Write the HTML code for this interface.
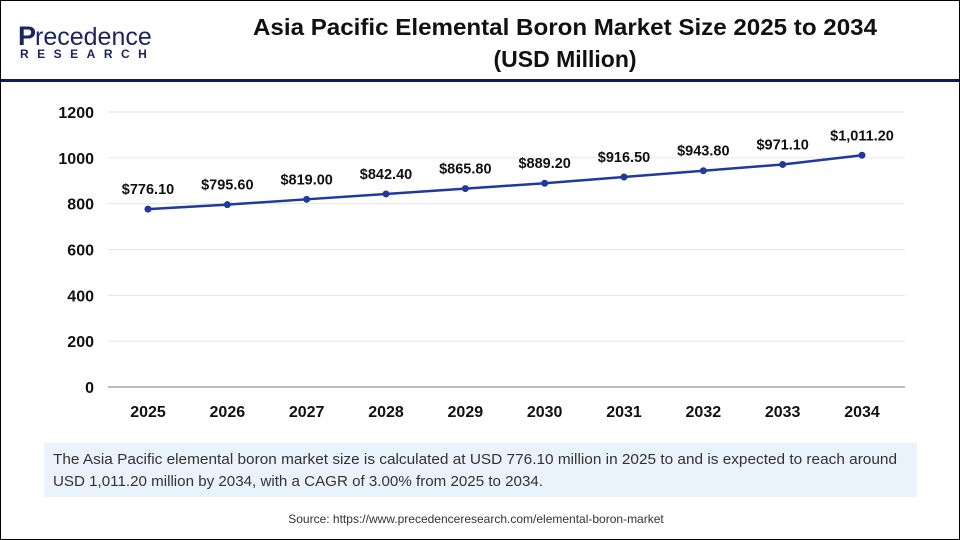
<!DOCTYPE html>
<html><head><meta charset="utf-8"><style>
body{margin:0;width:960px;height:540px;overflow:hidden;background:#fff;font-family:"Liberation Sans",Arial,sans-serif}
#frame{position:absolute;left:0;top:0;width:958px;height:538px;border:1px solid #000}
</style></head><body>
<div id="frame"></div>
<svg width="960" height="540" style="position:absolute;left:0;top:0">
 <g>
  <text x="18" y="45" font-size="27" font-weight="bold" fill="#1a2466">P</text>
  <text x="35" y="45" font-size="25" fill="#1a2466">recedence</text>
  <text x="20" y="58" font-size="12" font-weight="bold" fill="#1a2466" letter-spacing="8.5">RESEARCH</text>
 </g>
 <text x="565" y="35" font-size="23" font-weight="bold" text-anchor="middle" fill="#111" textLength="624" lengthAdjust="spacingAndGlyphs">Asia Pacific Elemental Boron Market Size 2025 to 2034</text>
 <text x="565" y="67" font-size="23" font-weight="bold" text-anchor="middle" fill="#111">(USD Million)</text>
 <rect x="1" y="79" width="958" height="3" fill="#10195a"/>
 <g id="grid"></g><g id="yt"></g><g id="xt"></g><g id="ser"></g>
 <rect x="44" y="443" width="873" height="54" fill="#eaf2fb"/>
 <text x="53" y="464" font-size="15" fill="#333" textLength="844" lengthAdjust="spacingAndGlyphs">The Asia Pacific elemental boron market size is calculated at USD 776.10 million in 2025 to and is expected to reach around</text>
 <text x="53" y="486" font-size="15" fill="#333" textLength="490" lengthAdjust="spacingAndGlyphs">USD 1,011.20 million by 2034, with a CAGR of 3.00% from 2025 to 2034.</text>
 <text x="476" y="523" font-size="12" text-anchor="middle" fill="#333">Source: https://www.precedenceresearch.com/elemental-boron-market</text>
</svg>
<script>
const years=["2025","2026","2027","2028","2029","2030","2031","2032","2033","2034"];
const values=[776.1,795.6,819.0,842.4,865.8,889.2,916.5,943.8,971.1,1011.2];
const valueLabels=["$776.10","$795.60","$819.00","$842.40","$865.80","$889.20","$916.50","$943.80","$971.10","$1,011.20"];
const yTicks=[0,200,400,600,800,1000,1200];
const NS="http://www.w3.org/2000/svg";
const y=v=>387-v*275/1200;
const x=i=>148+i*(862-148)/(years.length-1);
function mk(tag,attrs,parent,txt){const e=document.createElementNS(NS,tag);for(const k in attrs)e.setAttribute(k,attrs[k]);if(txt!==undefined)e.textContent=txt;document.getElementById(parent).appendChild(e);return e;}
yTicks.forEach(t=>{
 const l=mk('line',{x1:108,x2:905,y1:y(t),y2:y(t),stroke:t===0?'#bbb':'#e6e6e6','stroke-width':t===0?2:1},'grid');
 
 
 const tx=mk('text',{x:94,y:y(t)+6,'font-size':16,'font-weight':'bold','text-anchor':'end',fill:'#111'},'yt',String(t));
 
 
});
years.forEach((yr,i)=>{
 const tx=mk('text',{x:x(i),y:417,'font-size':16,'font-weight':'bold','text-anchor':'middle',fill:'#111'},'xt',yr);
 
 
});
const pl=mk('polyline',{points:values.map((v,i)=>x(i)+','+y(v)).join(' '),fill:'none',stroke:'#1f3a9c','stroke-width':2.5},'ser');


values.forEach((v,i)=>{
 const c=mk('circle',{cx:x(i),cy:y(v),r:3.5,fill:'#1f3a9c'},'ser');
 
 
 const t=mk('text',{x:x(i),y:y(v)-15,'font-size':14.5,'font-weight':'bold','text-anchor':'middle',fill:'#111'},'ser',valueLabels[i]);
 
 
});
</script>
</body></html>
